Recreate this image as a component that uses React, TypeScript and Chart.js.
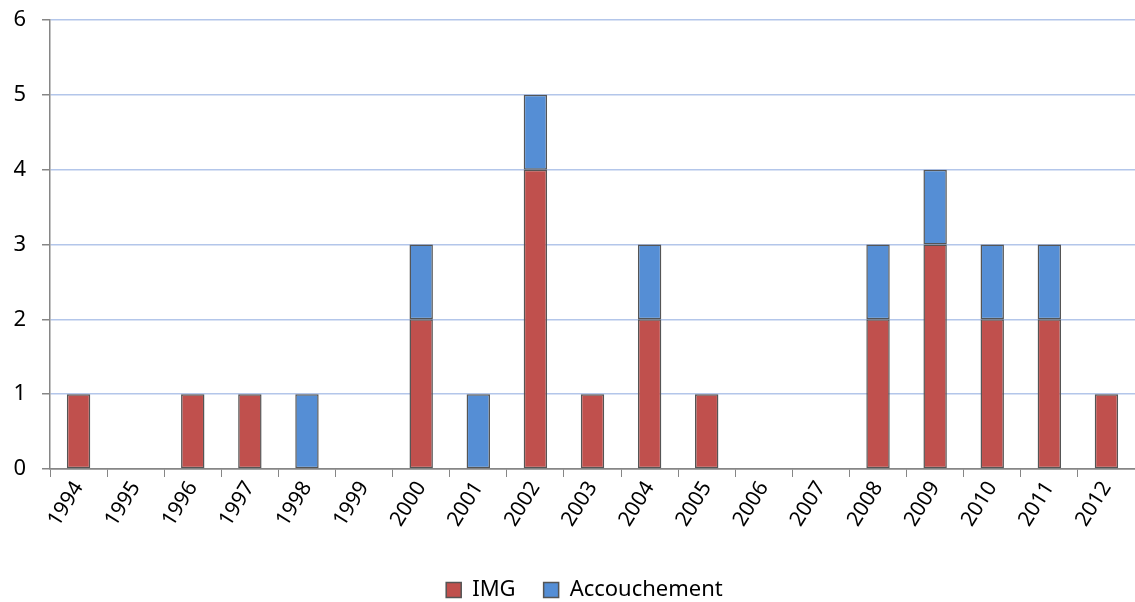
import React, { useEffect, useRef } from "react";
import { Chart, registerables } from "chart.js";

Chart.register(...registerables);

const years = ["1994","1995","1996","1997","1998","1999","2000","2001","2002","2003","2004","2005","2006","2007","2008","2009","2010","2011","2012"];
const imgValues = [1,0,1,1,0,0,2,0,4,1,2,1,0,0,2,3,2,2,1];
const accouchementValues = [0,0,0,0,1,0,1,1,1,0,1,0,0,0,1,1,1,1,0];
const yTicks = [0,1,2,3,4,5,6];

const FONT = "'Noto Sans', sans-serif";
const AXIS_GRAY = "#868686";

const shiftLegend = {
  id: "shiftLegend",
  afterLayout(chart: any) {
    const lg = chart.legend;
    if (lg) {
      lg.left += 17;
      lg.right += 17;
    }
  },
};

export default function App() {
  const ref = useRef<HTMLCanvasElement | null>(null);
  useEffect(() => {
    if (!ref.current) return;
    const toNull = (a: number[]) => a.map((v) => (v === 0 ? null : v));
    const chart = new Chart(ref.current, {
      type: "bar",
      data: {
        labels: years,
        datasets: [
          {
            label: "IMG",
            data: toNull(imgValues),
            backgroundColor: "#C0504D",
            borderColor: "#555555",
            borderWidth: 1.5,
            borderSkipped: false,
            barPercentage: 0.41,
            categoryPercentage: 1,
          },
          {
            label: "Accouchement",
            data: toNull(accouchementValues),
            backgroundColor: "#558ED5",
            borderColor: "#555555",
            borderWidth: 1.5,
            borderSkipped: false,
            barPercentage: 0.41,
            categoryPercentage: 1,
          },
        ],
      },
      plugins: [shiftLegend],
      options: {
        responsive: false,
        animation: false,
        layout: { padding: { top: 20, right: 0, left: 0, bottom: -9 } },
        plugins: {
          tooltip: { enabled: false },
          legend: {
            position: "bottom",
            labels: {
              boxWidth: 15,
              boxHeight: 15,
              color: "#000",
              font: { family: FONT, size: 22 },
              padding: 28,
            },
          },
        },
        scales: {
          x: {
            stacked: true,
            offset: true,
            grid: {
              offset: true,
              drawOnChartArea: false,
              drawTicks: true,
              tickLength: 8,
              color: AXIS_GRAY,
              tickColor: AXIS_GRAY,
            },
            border: { color: AXIS_GRAY, width: 1.5 },
            ticks: {
              color: "#000",
              font: { family: FONT, size: 21 },
              maxRotation: 58,
              minRotation: 58,
              autoSkip: false,
              padding: 0,
            },
            afterFit: (s: any) => {
              s.height = 82;
            },
          },
          y: {
            stacked: true,
            min: 0,
            max: 6,
            afterBuildTicks: (s: any) => {
              s.ticks = yTicks.map((v) => ({ value: v }));
            },
            grid: {
              color: (c: any) => (c.tick && c.tick.value === 0 ? AXIS_GRAY : "#b3c6ea"),
              tickColor: AXIS_GRAY,
              tickLength: 8,
              lineWidth: 1.5,
            },
            border: { color: AXIS_GRAY, width: 1.5 },
            ticks: {
              color: "#000",
              font: { family: FONT, size: 22 },
              padding: 16,
            },
            afterFit: (s: any) => {
              s.width = 50;
              s.paddingTop = 8;
              s.paddingBottom = 8;
            },
          },
        },
      },
    });
    return () => chart.destroy();
  }, []);
  return (
    <div style={{ position: "absolute", left: 0, top: 0, width: 1135, height: 602, background: "#fff" }}>
      <canvas ref={ref} width={1135} height={602} />
    </div>
  );
}
